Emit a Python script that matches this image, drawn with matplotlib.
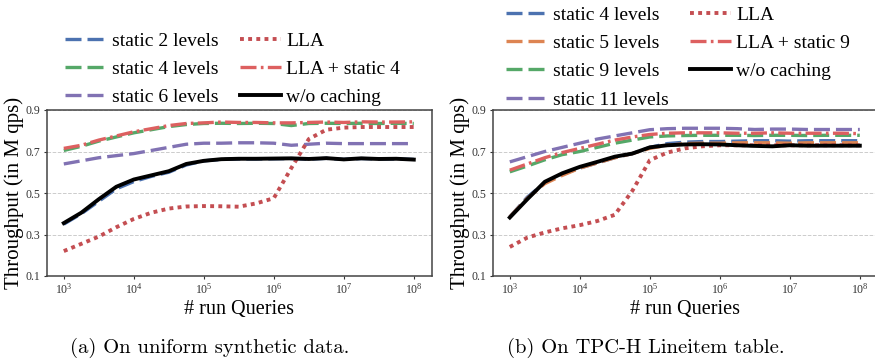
import matplotlib
matplotlib.use("Agg")
import matplotlib.pyplot as plt
import numpy as np

plt.rcParams["font.family"] = ["Liberation Serif", "DejaVu Serif"]
plt.rcParams["mathtext.fontset"] = "custom"
plt.rcParams["mathtext.rm"] = "Liberation Serif"
plt.rcParams["mathtext.it"] = "Liberation Serif:italic"

# ---------------------------------------------------------------------------
# Data
# ---------------------------------------------------------------------------
exponents = [3.0, 3.25, 3.5, 3.75, 4.0, 4.25, 4.5, 4.75, 5.0, 5.25, 5.5,
             5.75, 6.0, 6.25, 6.5, 6.75, 7.0, 7.25, 7.5, 7.75, 8.0]

# (a) uniform synthetic data
a_static2 = [0.350, 0.400, 0.460, 0.520, 0.555, 0.580, 0.600, 0.635, 0.655, 0.662, 0.664,
             0.664, 0.665, 0.666, 0.663, 0.667, 0.662, 0.666, 0.664, 0.664, 0.662]
a_static4 = [0.705, 0.725, 0.750, 0.770, 0.790, 0.805, 0.820, 0.830, 0.835, 0.836, 0.835,
             0.836, 0.835, 0.825, 0.835, 0.836, 0.835, 0.836, 0.835, 0.836, 0.835]
a_static6 = [0.640, 0.655, 0.670, 0.680, 0.690, 0.705, 0.720, 0.735, 0.740, 0.740, 0.742,
             0.742, 0.740, 0.730, 0.735, 0.740, 0.738, 0.738, 0.738, 0.738, 0.738]
a_lla = [0.220, 0.255, 0.290, 0.335, 0.375, 0.405, 0.425, 0.435, 0.437, 0.436, 0.434,
         0.450, 0.475, 0.620, 0.760, 0.805, 0.815, 0.818, 0.818, 0.818, 0.818]
a_lla_static = [0.715, 0.730, 0.755, 0.775, 0.795, 0.810, 0.825, 0.835, 0.838, 0.842, 0.840,
                0.840, 0.838, 0.838, 0.840, 0.842, 0.840, 0.843, 0.842, 0.842, 0.843]
a_nocache = [0.355, 0.405, 0.470, 0.530, 0.565, 0.585, 0.605, 0.640, 0.655, 0.663, 0.665,
             0.665, 0.666, 0.667, 0.664, 0.668, 0.662, 0.667, 0.664, 0.665, 0.661]

# (b) TPC-H lineitem
b_static4 = [0.385, 0.480, 0.550, 0.590, 0.620, 0.645, 0.670, 0.690, 0.720, 0.738, 0.745,
             0.748, 0.748, 0.750, 0.752, 0.752, 0.750, 0.752, 0.752, 0.752, 0.752]
b_static5 = [0.385, 0.475, 0.545, 0.585, 0.620, 0.645, 0.670, 0.690, 0.715, 0.730, 0.738,
             0.740, 0.740, 0.742, 0.742, 0.742, 0.740, 0.742, 0.742, 0.742, 0.742]
b_static9 = [0.602, 0.630, 0.660, 0.685, 0.700, 0.720, 0.740, 0.755, 0.770, 0.775, 0.777,
             0.778, 0.778, 0.778, 0.777, 0.778, 0.778, 0.777, 0.778, 0.778, 0.778]
b_static11 = [0.650, 0.675, 0.700, 0.720, 0.740, 0.760, 0.775, 0.790, 0.805, 0.810, 0.812,
              0.812, 0.812, 0.810, 0.806, 0.808, 0.808, 0.806, 0.806, 0.806, 0.806]
b_lla = [0.240, 0.285, 0.310, 0.330, 0.345, 0.365, 0.395, 0.510, 0.658, 0.695, 0.715,
         0.725, 0.730, 0.730, 0.730, 0.730, 0.730, 0.730, 0.730, 0.730, 0.730]
b_lla_static = [0.610, 0.640, 0.670, 0.695, 0.715, 0.735, 0.755, 0.770, 0.782, 0.788, 0.790,
                0.790, 0.790, 0.788, 0.788, 0.790, 0.788, 0.788, 0.788, 0.788, 0.786]
b_nocache = [0.382, 0.470, 0.554, 0.595, 0.626, 0.650, 0.675, 0.690, 0.720, 0.730, 0.734,
             0.735, 0.734, 0.730, 0.727, 0.725, 0.730, 0.728, 0.728, 0.728, 0.728]

BLUE, ORANGE, GREEN, PURPLE = "#4C72B0", "#DD8452", "#55A868", "#8172B3"
RED_DOT, RED_DASHDOT = "#C44E52", "#DD6060"
DASH = (0, (4.8, 1.8))
DOT = (0, (1, 1.1))
DASHDOT = (0, (4.8, 1.3, 0.8, 1.3))

x = 10.0 ** np.array(exponents)


def style_axes(ax):
    ax.set_xscale("log")
    ax.set_xlim(10 ** 2.76, 10 ** 8.26)
    ax.set_ylim(0.1, 0.9)
    ax.set_yticks([0.1, 0.3, 0.5, 0.7, 0.9])
    ax.set_yticklabels(["0.1", "0.3", "0.5", "0.7", "0.9"])
    ax.set_xticks([1e3, 1e4, 1e5, 1e6, 1e7, 1e8])
    ax.set_xticklabels([r"$10^{%d}$" % e for e in range(3, 9)])
    ax.minorticks_off()
    ax.tick_params(labelsize=8.5, length=2.5, width=0.8, colors="#333333", pad=2)
    ax.grid(True, axis="y", ls="--", lw=0.7, color="#cccccc")
    ax.set_axisbelow(True)
    for sp in ax.spines.values():
        sp.set_color("#444444")
        sp.set_linewidth(1.1)
    ax.set_xlabel("# run Queries", fontsize=14.5, labelpad=2)
    ax.set_ylabel("Throughput (in M qps)", fontsize=15, labelpad=1)


fig = plt.figure(figsize=(8.75, 3.61), dpi=100)
ax1 = fig.add_axes([47 / 875, 1 - 276 / 361, 385 / 875, 166 / 361])
ax2 = fig.add_axes([493 / 875, 1 - 276 / 361, 385 / 875, 166 / 361])

lw = 2.4
ax1.plot(x, a_static2, color=BLUE, ls=DASH, lw=lw, label="static 2 levels")
ax1.plot(x, a_static4, color=GREEN, ls=DASH, lw=lw, label="static 4 levels")
ax1.plot(x, a_static6, color=PURPLE, ls=DASH, lw=lw, label="static 6 levels")
ax1.plot(x, a_lla, color=RED_DOT, ls=DOT, lw=lw + 0.4, label="LLA")
ax1.plot(x, a_lla_static, color=RED_DASHDOT, ls=DASHDOT, lw=lw, label="LLA + static 4")
ax1.plot(x, a_nocache, color="black", ls="-", lw=2.8, label="w/o caching")

ax2.plot(x, b_static4, color=BLUE, ls=DASH, lw=lw, label="static 4 levels")
ax2.plot(x, b_static5, color=ORANGE, ls=DASH, lw=lw, label="static 5 levels")
ax2.plot(x, b_static9, color=GREEN, ls=DASH, lw=lw, label="static 9 levels")
ax2.plot(x, b_static11, color=PURPLE, ls=DASH, lw=lw, label="static 11 levels")
ax2.plot(x, b_lla, color=RED_DOT, ls=DOT, lw=lw + 0.4, label="LLA")
ax2.plot(x, b_lla_static, color=RED_DASHDOT, ls=DASHDOT, lw=lw, label="LLA + static 9")
ax2.plot(x, b_nocache, color="black", ls="-", lw=2.8, label="w/o caching")

for ax in (ax1, ax2):
    style_axes(ax)

leg_kw = dict(ncol=2, frameon=False, fontsize=14, handlelength=2.1,
              handletextpad=0.3, columnspacing=1.1, labelspacing=0.55,
              borderpad=0, borderaxespad=0, loc="upper left")
ax1.legend(bbox_to_anchor=(65 / 875, 1 - 32 / 361), bbox_transform=fig.transFigure, **leg_kw)
ax2.legend(bbox_to_anchor=(506 / 875, 1 - 6 / 361), bbox_transform=fig.transFigure, **leg_kw)

cap_font = dict(family="cmr10", fontsize=14.8, ha="center", va="center")
fig.text(210 / 875, 1 - 348 / 361, "(a) On uniform synthetic data.", **cap_font)
fig.text(646 / 875, 1 - 348 / 361, "(b) On TPC-H Lineitem table.", **cap_font)

fig.savefig("out.png", dpi=100)
